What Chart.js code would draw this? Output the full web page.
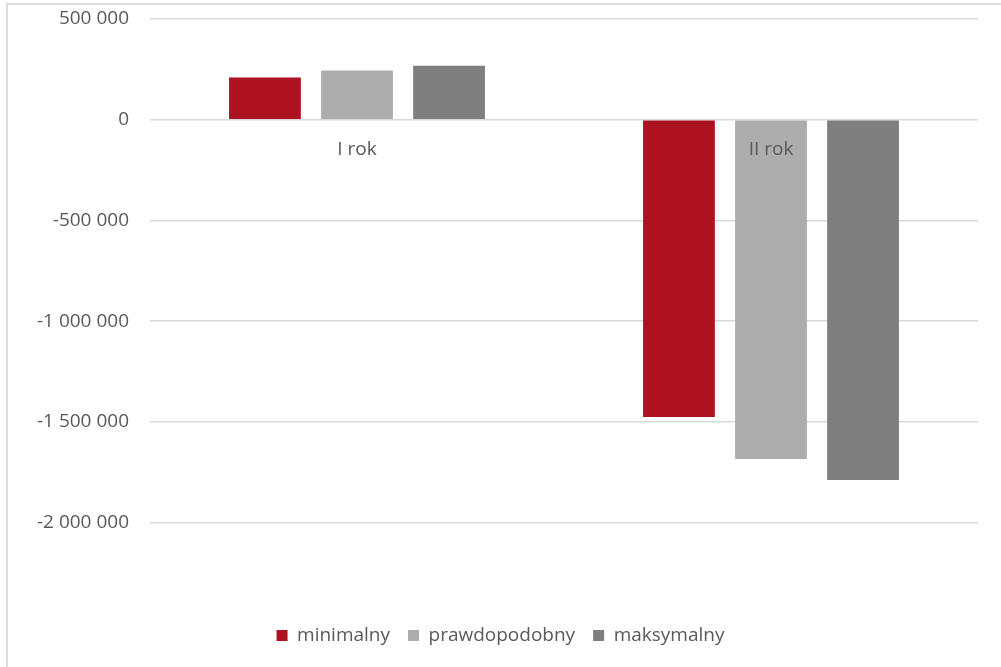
<!DOCTYPE html>
<html lang="pl">
<head>
<meta charset="utf-8">
<title>Wynik finansowy</title>
<script src="https://cdn.jsdelivr.net/npm/chart.js@4/dist/chart.umd.min.js"></script>
<style>
  html, body { margin: 0; padding: 0; background: #fff; overflow: hidden; }
  .wrap { position: relative; width: 1001px; height: 667px; overflow: hidden; }
  .frame {
    position: absolute; left: 6px; top: 3px; width: 1100px; height: 800px;
    border: 2px solid #d9d9d9; box-sizing: border-box;
  }
  canvas { position: absolute; left: 0; top: 0; }
</style>
</head>
<body>
<div class="wrap">
  <div class="frame"></div>
  <canvas id="chart" width="1001" height="667"></canvas>
</div>
<script>
"use strict";

// categories and series
const years = ["I rok", "II rok"];
const minimalny = [209000, -1476000];
const prawdopodobny = [244000, -1684000];
const maksymalny = [268000, -1789000];

// y axis range
const yMin = -2000000;
const yMax = 500000;
const yStep = 500000;

const textColor = "#595959";
const gridColor = "#d9d9d9";
const fontFamily = "'Open Sans', 'Noto Sans', sans-serif";

// "1 500 000" style number with spaces
const formatNumber = function (v) {
  const s = String(Math.abs(v)).replace(/\B(?=(\d{3})+(?!\d))/g, " ");
  return v < 0 ? "-" + s : s;
};

const makeSet = function (label, data, color) {
  return {
    label: label,
    data: data,
    backgroundColor: color,
    borderWidth: 0,
    barPercentage: 0.78,
    categoryPercentage: 0.667,
  };
};

const ctx = document.getElementById("chart").getContext("2d");
new Chart(ctx, {
  type: "bar",
  data: {
    labels: years,
    datasets: [
      makeSet("minimalny", minimalny, "#ad1220"),
      makeSet("prawdopodobny", prawdopodobny, "#adadad"),
      makeSet("maksymalny", maksymalny, "#7f7f7f"),
    ],
  },
  options: {
    responsive: false,
    animation: false,
    layout: {
      padding: { top: 19, right: 23, bottom: 12, left: 23 },
    },
    scales: {
      x: {
        // category labels sit under the zero line, on top of the bars
        position: { y: 0 },
        afterFit: function (scale) {
          scale.height = 0;
        },
        grid: { display: false },
        border: { display: false },
        ticks: {
          z: 1,
          color: textColor,
          padding: 10,
          font: { family: fontFamily, size: 19 },
        },
      },
      y: {
        min: yMin,
        max: yMax,
        afterFit: function (scale) {
          scale.width = 127;
        },
        grid: {
          color: gridColor,
          lineWidth: 1.4,
          // invisible tick marks give the gap before the labels
          drawTicks: true,
          tickLength: 21,
          tickColor: "rgba(0, 0, 0, 0)",
        },
        border: { display: false },
        ticks: {
          stepSize: yStep,
          color: textColor,
          padding: 0,
          font: { family: fontFamily, size: 19 },
          callback: function (value) {
            return formatNumber(value);
          },
        },
      },
    },
    plugins: {
      tooltip: { enabled: false },
      legend: {
        position: "bottom",
        // empty title only keeps a gap between the plot and the legend row
        title: {
          display: true,
          text: "",
          padding: { top: 71, bottom: 0 },
          font: { size: 12 },
        },
        labels: {
          color: textColor,
          boxWidth: 11,
          boxHeight: 11,
          padding: 18,
          font: { family: fontFamily, size: 19 },
        },
      },
    },
  },
});
</script>
</body>
</html>
